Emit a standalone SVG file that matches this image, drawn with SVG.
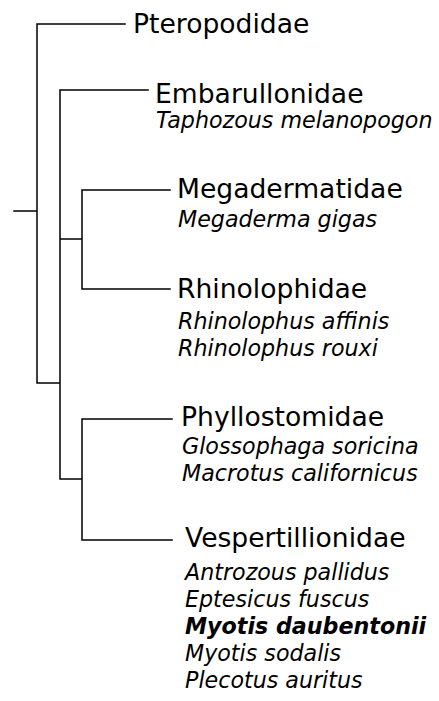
<svg xmlns="http://www.w3.org/2000/svg" width="439" height="701" viewBox="0 0 439 701">
<style>
.l{stroke:#000;stroke-width:1.5;fill:none;stroke-linecap:square}
.f{font-family:"DejaVu Sans",sans-serif;font-size:26.6px;fill:#000}
.s{font-family:"DejaVu Sans",sans-serif;font-size:22.2px;font-style:italic;fill:#000}
.b{font-weight:bold}
</style>
<rect width="439" height="701" fill="#fff"/>
<g id="connectors">
<path class="l" d="M14,211H37M37,24V383M37,24H125M37,383H60M60,90V479M60,90H148M60,239H82M82,190V289M82,190H170M82,289H170M60,479H82M82,419V540M82,419H172M82,540H172"/>
</g>
<g id="pteropodidae"><text class="f" x="133" y="33">Pteropodidae</text></g>
<g id="embarullonidae"><text class="f" x="155" y="103">Embarullonidae</text><text class="s" x="156" y="128">Taphozous melanopogon</text></g>
<g id="megadermatidae"><text class="f" x="177" y="198">Megadermatidae</text><text class="s" x="178" y="227">Megaderma gigas</text></g>
<g id="rhinolophidae"><text class="f" x="177" y="298">Rhinolophidae</text><text class="s" x="178" y="329">Rhinolophus affinis</text><text class="s" x="178" y="356">Rhinolophus rouxi</text></g>
<g id="phyllostomidae"><text class="f" x="181" y="426">Phyllostomidae</text><text class="s" x="182" y="454">Glossophaga soricina</text><text class="s" x="182" y="481">Macrotus californicus</text></g>
<g id="vespertillionidae"><text class="f" x="185" y="547">Vespertillionidae</text><text class="s" x="185" y="580">Antrozous pallidus</text><text class="s" x="185" y="607">Eptesicus fuscus</text><text class="s b" x="185" y="634">Myotis daubentonii</text><text class="s" x="185" y="661">Myotis sodalis</text><text class="s" x="185" y="688">Plecotus auritus</text></g>
</svg>
